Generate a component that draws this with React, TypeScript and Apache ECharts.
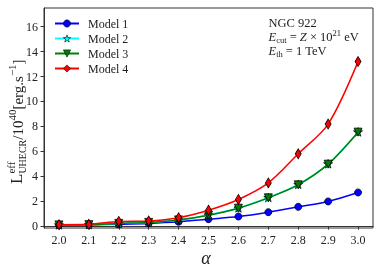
import React, { useEffect, useRef } from "react";
import * as echarts from "echarts";

const alphas = [2.0, 2.1, 2.2, 2.3, 2.4, 2.5, 2.6, 2.7, 2.8, 2.9, 3.0];
const model1 = [0.08, 0.1, 0.15, 0.22, 0.35, 0.56, 0.77, 1.12, 1.55, 1.98, 2.7];
const model2 = [0.1, 0.12, 0.22, 0.3, 0.5, 0.9, 1.46, 2.3, 3.35, 5.0, 7.56];
const model3 = [0.1, 0.12, 0.22, 0.3, 0.5, 0.88, 1.44, 2.27, 3.31, 4.97, 7.54];
const model4 = [0.12, 0.15, 0.38, 0.42, 0.68, 1.28, 2.14, 3.47, 5.8, 8.19, 13.2];
const xTicks = [2.0, 2.1, 2.2, 2.3, 2.4, 2.5, 2.6, 2.7, 2.8, 2.9, 3.0];
const yTicks = [0, 2, 4, 6, 8, 10, 12, 14, 16];
const seriesNames = ["Model 1", "Model 2", "Model 3", "Model 4"];

const FF = '"Liberation Serif", "Times New Roman", serif';
const TXT = "#222";
const STAR =
  "path://M0,-10L2.35,-3.24L9.51,-3.09L3.8,1.24L5.88,8.09L0,4L-5.88,8.09L-3.8,1.24L-9.51,-3.09L-2.35,-3.24Z";

type Seg = { t: string; size: number; italic?: boolean; dy?: number; noAdvance?: boolean };

let ctx: CanvasRenderingContext2D | null = null;
function measure(t: string, font: string) {
  if (!ctx) ctx = document.createElement("canvas").getContext("2d");
  if (!ctx) return t.length * 6;
  ctx.font = font;
  return ctx.measureText(t).width;
}

function buildRow(segs: Seg[]) {
  let x = 0;
  const els: any[] = [];
  for (const s of segs) {
    const font = `${s.italic ? "italic " : ""}${s.size}px ${FF}`;
    els.push({
      type: "text",
      x,
      y: (s.dy || 0) - 0.3 * s.size,
      style: { text: s.t, font, fill: TXT, align: "left", verticalAlign: "middle" },
    });
    if (!s.noAdvance) x += measure(s.t, font);
  }
  return els;
}

export default function App() {
  const ref = useRef<HTMLDivElement>(null);
  useEffect(() => {
    if (!ref.current) return;
    const chart = echarts.init(ref.current, null, { renderer: "svg" });
    const mk = (vals: number[]) => alphas.map((a, i) => [a, vals[i]]);
    const colors = ["#0000ff", "#00ffff", "#008000", "#ff0000"];
    const symbols = ["circle", STAR, "triangle", "diamond"];
    const sizes: any[] = [7, 9, 8, [6, 10]];
    const rot = [0, 0, 180, 0];
    const data = [model1, model2, model3, model4];

    const yLabel = buildRow([
      { t: "L", size: 17 },
      { t: "eff", size: 11, dy: -8, noAdvance: true },
      { t: "UHECR", size: 10, dy: 3 },
      { t: "/10", size: 15 },
      { t: "40", size: 11, dy: -7 },
      { t: "[erg.s", size: 15 },
      { t: "\u22121", size: 11, dy: -7 },
      { t: "]", size: 15 },
    ]);
    const row1 = buildRow([{ t: "NGC 922", size: 12.5 }]);
    const row2 = buildRow([
      { t: "E", size: 12.5, italic: true },
      { t: "cut", size: 8.5, dy: 2 },
      { t: " = ", size: 12.5 },
      { t: "Z", size: 12.5, italic: true },
      { t: " \u00d7 10", size: 12.5 },
      { t: "21", size: 8.5, dy: -5 },
      { t: " eV", size: 12.5 },
    ]);
    const row3 = buildRow([
      { t: "E", size: 12.5, italic: true },
      { t: "th", size: 8.5, dy: 2 },
      { t: " = 1 TeV", size: 12.5 },
    ]);

    chart.setOption({
      animation: false,
      grid: {
        left: 44,
        right: 8,
        top: 8,
        bottom: 44,
        show: true,
        borderColor: "#333",
        borderWidth: 1,
        backgroundColor: "transparent",
      },
      legend: {
        left: 54,
        top: 17.5,
        padding: 0,
        orient: "vertical",
        itemWidth: 24,
        itemHeight: 9,
        itemGap: 3,
        data: seriesNames,
        itemStyle: { borderWidth: 0.6 },
        textStyle: { fontFamily: FF, fontSize: 12, color: TXT, lineHeight: 12, padding: [0, 0, 0, 4] },
      },
      xAxis: {
        type: "value",
        min: 1.95,
        max: 3.05,
        splitLine: { show: false },
        axisLine: { lineStyle: { color: "#333" } },
        axisTick: { show: true, length: 3.5, customValues: xTicks, lineStyle: { color: "#333" } },
        axisLabel: {
          customValues: xTicks,
          formatter: (v: number) => v.toFixed(1),
          fontFamily: FF,
          fontSize: 12,
          color: TXT,
          margin: 6,
        },
      },
      yAxis: {
        type: "value",
        min: -0.15,
        max: 17.5,
        splitLine: { show: false },
        axisLine: { show: true, lineStyle: { color: "#333" } },
        axisTick: { show: true, length: 3.5, customValues: yTicks, lineStyle: { color: "#333" } },
        axisLabel: {
          customValues: yTicks,
          fontFamily: FF,
          fontSize: 12,
          color: TXT,
          margin: 6,
        },
      },
      graphic: [
        { type: "group", x: 22, y: 184, rotation: Math.PI / 2, children: yLabel },
        { type: "group", x: 268.5, y: 27, children: row1 },
        { type: "group", x: 268.5, y: 40.5, children: row2 },
        { type: "group", x: 268.5, y: 54.5, children: row3 },
        {
          type: "text",
          x: 206,
          y: 258,
          style: { text: "\u03b1", font: `italic 18px ${FF}`, fill: TXT, align: "center", verticalAlign: "middle" },
        },
      ],
      series: data.map((vals, i) => ({
        name: seriesNames[i],
        type: "line",
        data: mk(vals),
        smooth: 0.3,
        symbol: symbols[i],
        symbolSize: sizes[i],
        symbolRotate: rot[i],
        symbolKeepAspect: true,
        z: 2 + i,
        lineStyle: { color: colors[i], width: 1.5 },
        itemStyle: { color: colors[i], borderColor: "#000", borderWidth: 0.8 },
      })),
    });
    return () => chart.dispose();
  }, []);
  return <div ref={ref} style={{ position: "fixed", left: 0, top: 0, width: 381, height: 272 }} />;
}
